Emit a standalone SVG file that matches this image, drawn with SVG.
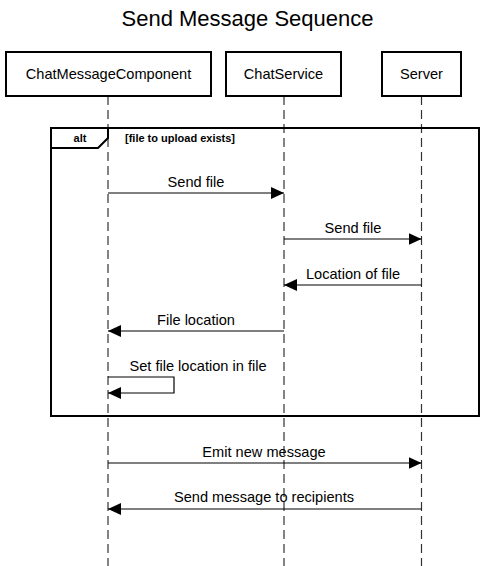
<svg xmlns="http://www.w3.org/2000/svg" width="495" height="566" viewBox="0 0 495 566">
<style>
text{font-family:"Liberation Sans",Arial,sans-serif;fill:#000}
.t{font-size:22px;text-anchor:middle}
.n{font-size:14.6px;text-anchor:middle}
.m{font-size:14.6px;text-anchor:middle}
.box{fill:#fff;stroke:#000;stroke-width:2}
.life{stroke:#333;stroke-width:1.2;stroke-dasharray:9,5;fill:none}
.msg{stroke:#000;stroke-width:1.2;fill:none}
.fr{fill:none;stroke:#000;stroke-width:2}
.b{font-size:11px;font-weight:bold}
</style>
<defs>
<marker id="ah" markerWidth="14" markerHeight="12" refX="13" refY="6" orient="auto" markerUnits="userSpaceOnUse">
<path d="M0,0 L13,6 L0,12 Z" fill="#000"/>
</marker>
</defs>
<rect width="495" height="566" fill="#fff"/>
<text class="t" x="247.5" y="26">Send Message Sequence</text>
<g id="lifelines">
<line class="life" x1="108" y1="96" x2="108" y2="566"/>
<line class="life" x1="284" y1="96" x2="284" y2="566"/>
<line class="life" x1="421.5" y1="96" x2="421.5" y2="566"/>
</g>
<g id="ChatMessageComponent">
<rect class="box" x="6" y="52" width="205" height="44"/>
<text class="n" x="108.5" y="79">ChatMessageComponent</text>
</g>
<g id="ChatService">
<rect class="box" x="226" y="52" width="115" height="44"/>
<text class="n" x="283.5" y="79">ChatService</text>
</g>
<g id="Server">
<rect class="box" x="382" y="52" width="79" height="44"/>
<text class="n" x="421.5" y="79">Server</text>
</g>
<g id="alt-frame">
<rect class="fr" x="51" y="128" width="428" height="288"/>
<path class="fr" d="M51,148 H98 L108,138 V128"/>
<text class="b" x="80" y="142" text-anchor="middle">alt</text>
<text class="b" x="125" y="142" font-size="10.5px">[file to upload exists]</text>
</g>
<g id="connectors">
<line class="msg" x1="108" y1="193" x2="284" y2="193" marker-end="url(#ah)"/>
<text class="m" x="196" y="187">Send file</text>
<line class="msg" x1="284" y1="239" x2="421.5" y2="239" marker-end="url(#ah)"/>
<text class="m" x="353" y="233">Send file</text>
<line class="msg" x1="421.5" y1="285" x2="284" y2="285" marker-end="url(#ah)"/>
<text class="m" x="353" y="279">Location of file</text>
<line class="msg" x1="284" y1="331" x2="108" y2="331" marker-end="url(#ah)"/>
<text class="m" x="196" y="325">File location</text>
<path class="msg" d="M108,377 H174 V393 H108" marker-end="url(#ah)"/>
<text class="m" x="198" y="371">Set file location in file</text>
<line class="msg" x1="108" y1="463" x2="421.5" y2="463" marker-end="url(#ah)"/>
<text class="m" x="264" y="457">Emit new message</text>
<line class="msg" x1="421.5" y1="509" x2="108" y2="509" marker-end="url(#ah)"/>
<text class="m" x="264" y="502">Send message to recipients</text>
</g>
</svg>
